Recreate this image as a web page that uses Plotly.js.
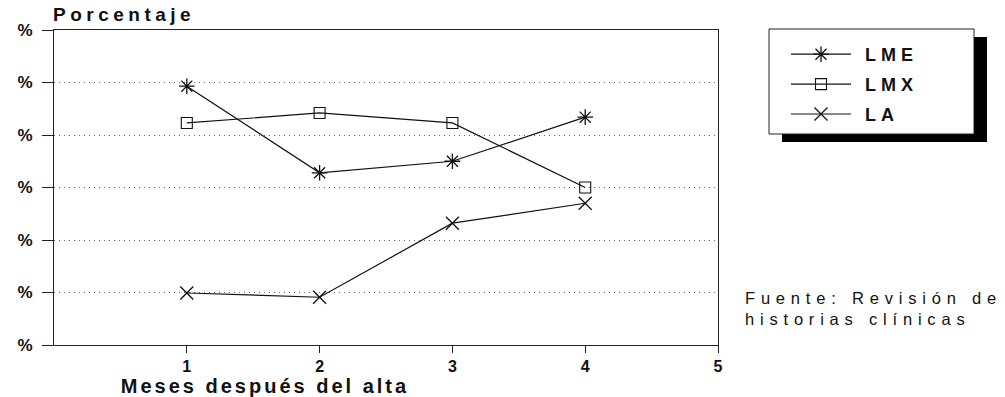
<!DOCTYPE html>
<html>
<head>
<meta charset="utf-8">
<script src="https://cdn.plot.ly/plotly-3.0.1.min.js"></script>
<style>
  html, body { margin: 0; padding: 0; background: #fff; }
  #chart { width: 1005px; height: 397px; }
  .gtitle { letter-spacing: 4.5px; }
  .legendtext { letter-spacing: 5px; transform: translateX(9px); }
  .annotation-text { letter-spacing: 5.8px; }
  .xlabel-ann .annotation-text { letter-spacing: 3px; }
</style>
</head>
<body>
<div id="chart"></div>
<script>
// Data
const months = [1, 2, 3, 4];
const lme = [49.3, 32.8, 35.0, 43.4];
const lmx = [42.3, 44.2, 42.3, 30.0];
const la  = [9.9, 9.1, 23.2, 27.0];
const yTickVals = [0, 10, 20, 30, 40, 50, 60];
const yTickText = ['%', '%', '%', '%', '%', '%', '%'];
const xTickVals = [1, 2, 3, 4, 5];
const seriesNames = ['LME', 'LMX', 'LA'];

const W = 1005, H = 397;
const L = 54, R = 718, T = 30, B = 345;
const px2x = p => (p - L) / (R - L);
const px2y = p => (B - p) / (B - T);

const lineStyle = { color: '#111', width: 1.2 };
const traces = [
  { x: months, y: lme, name: seriesNames[0], mode: 'lines+markers', line: lineStyle,
    marker: { symbol: 'asterisk-open', size: 13, color: '#111', line: { color: '#111', width: 1.3 } }, legendgroup: 'a' },
  { x: months, y: lmx, name: seriesNames[1], mode: 'lines+markers', line: lineStyle,
    marker: { symbol: 'square-open', size: 11, color: '#111', line: { color: '#111', width: 1.1 } }, legendgroup: 'b' },
  { x: months, y: la, name: seriesNames[2], mode: 'lines+markers', line: lineStyle,
    marker: { symbol: 'x-thin-open', size: 13, color: '#111', line: { color: '#111', width: 1.3 } }, legendgroup: 'c' }
];

const layout = {
  width: W, height: H,
  margin: { l: L, r: W - R, t: T, b: H - B, pad: 0 },
  paper_bgcolor: '#fff', plot_bgcolor: '#fff',
  font: { family: 'Liberation Sans, Arial, sans-serif', color: '#111' },
  title: {
    text: 'Porcentaje', x: 53 / W, xanchor: 'left', xref: 'container',
    y: 1 - 14 / H, yanchor: 'middle', yref: 'container',
    font: { size: 19, weight: 'bold', color: '#111' }
  },
  xaxis: {
    range: [0, 5], tickvals: xTickVals, ticks: 'outside', ticklen: 7, tickcolor: '#222',
    showline: true, linecolor: '#222', linewidth: 1, mirror: true,
    showgrid: false, zeroline: false,
    tickfont: { size: 16, weight: 'bold' }
  },
  yaxis: {
    range: [0, 60], tickvals: yTickVals, ticktext: yTickText, ticks: 'outside', ticklen: 11,
    tickcolor: '#222', ticklabelstandoff: 6,
    showline: true, linecolor: '#222', linewidth: 1, mirror: true,
    showgrid: true, gridcolor: '#666', griddash: '1px,4px', gridwidth: 1, zeroline: false,
    tickfont: { size: 17, weight: 'bold' }
  },
  showlegend: true,
  legend: {
    x: px2x(786), y: px2y(36), xanchor: 'left', yanchor: 'top',
    bgcolor: 'rgba(0,0,0,0)', borderwidth: 0,
    font: { size: 18, weight: 'bold', color: '#111' },
    traceorder: 'grouped', tracegroupgap: 3.5, itemwidth: 60
  },
  shapes: [
    { type: 'rect', xref: 'paper', yref: 'paper', layer: 'above',
      x0: px2x(782), x1: px2x(987), y0: px2y(142), y1: px2y(37),
      fillcolor: '#000', line: { width: 0 } },
    { type: 'rect', xref: 'paper', yref: 'paper', layer: 'above',
      x0: px2x(769), x1: px2x(974), y0: px2y(134), y1: px2y(29),
      fillcolor: '#fff', line: { width: 1, color: '#222' } }
  ],
  annotations: [
    { xref: 'paper', yref: 'paper', x: px2x(743), y: px2y(308.5), xanchor: 'left', yanchor: 'middle',
      align: 'left', showarrow: false,
      text: 'Fuente: Revisión de<br>historias clínicas',
      font: { size: 16.5, color: '#111' } },
    { xref: 'paper', yref: 'paper', x: px2x(265), y: px2y(386), xanchor: 'center', yanchor: 'middle',
      showarrow: false, text: 'Meses después del alta', name: 'xlabel',
      font: { size: 20, weight: 'bold', color: '#111' } }
  ]
};

Plotly.newPlot('chart', traces, layout, { displayModeBar: false, staticPlot: true }).then(() => {
  const anns = document.querySelectorAll('.annotation');
  if (anns.length > 1) anns[1].classList.add('xlabel-ann');
});
</script>
</body>
</html>
